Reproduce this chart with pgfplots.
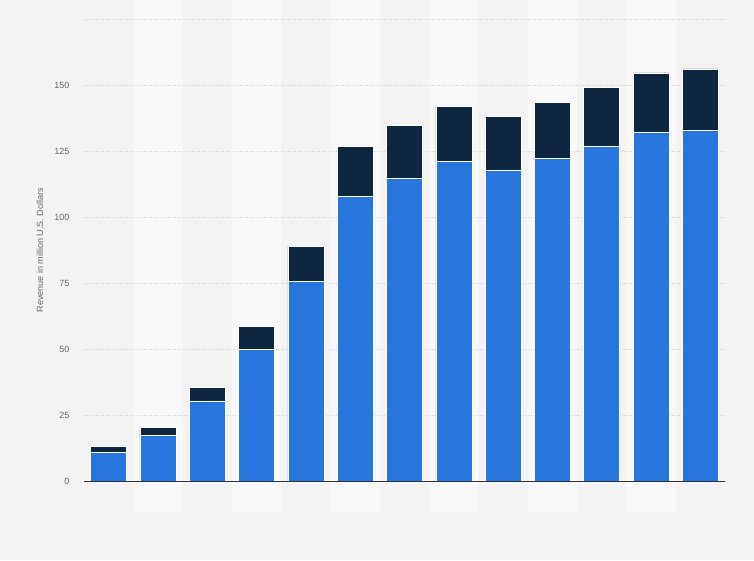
\documentclass[border=0pt]{standalone}
\usepackage{fontspec}
\setmainfont{Liberation Sans}
\usepackage{pgfplots}
\pgfplotsset{compat=1.18}

\definecolor{bgcol}{HTML}{F3F3F3}
\definecolor{bandcol}{HTML}{F8F8F8}
\definecolor{barblue}{HTML}{2876DD}
\definecolor{bardark}{HTML}{0F2640}
\definecolor{ticktext}{HTML}{666666}
\definecolor{gridcol}{HTML}{CFCFCF}

\begin{document}
\begin{tikzpicture}[x=1pt,y=1pt]
% page background and alternating column bands
\fill[bgcol] (0,0) rectangle (754,560);
\foreach \i in {2,4,...,12} {
  \fill[bandcol] ({84+49.308*(\i-1)},48) rectangle ({84+49.308*\i},560);
}
\begin{axis}[
  name=main,
  at={(84pt,79pt)}, anchor=south west,
  scale only axis,
  width=641pt, height=461.3pt,
  ybar stacked,
  bar width=36pt,
  xmin=0.5, xmax=13.5,
  ymin=0, ymax=175,
  xtick=\empty,
  ytick={0,25,...,175},
  yticklabels={0,25,50,75,100,125,150,},
  ymajorgrids,
  grid style={gridcol, dotted, line width=0.8pt},
  major tick length=0pt,
  axis line style={draw=none},
  tick label style={font=\fontsize{9}{10}\selectfont, text=ticktext},
  yticklabel style={xshift=-11pt},
  /pgf/number format/assume math mode=true,
  ylabel={Revenue in million U.S. Dollars},
  every axis y label/.style={at={(axis description cs:-0.0686,0.5)},rotate=90,anchor=center,
    font=\fontsize{9}{10}\selectfont, text=ticktext},
  clip=false,
]
\addplot[fill=barblue, draw=white, line width=0.6pt] coordinates {
  (1,11.0) (2,17.4) (3,30.4) (4,49.8) (5,75.6) (6,107.9) (7,114.7)
  (8,121.2) (9,117.7) (10,122.4) (11,127.0) (12,132.4) (13,133.0)};
\addplot[fill=bardark, draw=white, line width=0.6pt] coordinates {
  (1,2.0) (2,3.0) (3,5.2) (4,8.7) (5,13.3) (6,19.0) (7,20.1)
  (8,20.8) (9,20.5) (10,21.3) (11,22.3) (12,22.4) (13,23.3)};
\end{axis}
% baseline drawn over the bars
\draw[black!80, line width=0.9pt] (main.south west) -- (main.south east);
\end{tikzpicture}
\end{document}
